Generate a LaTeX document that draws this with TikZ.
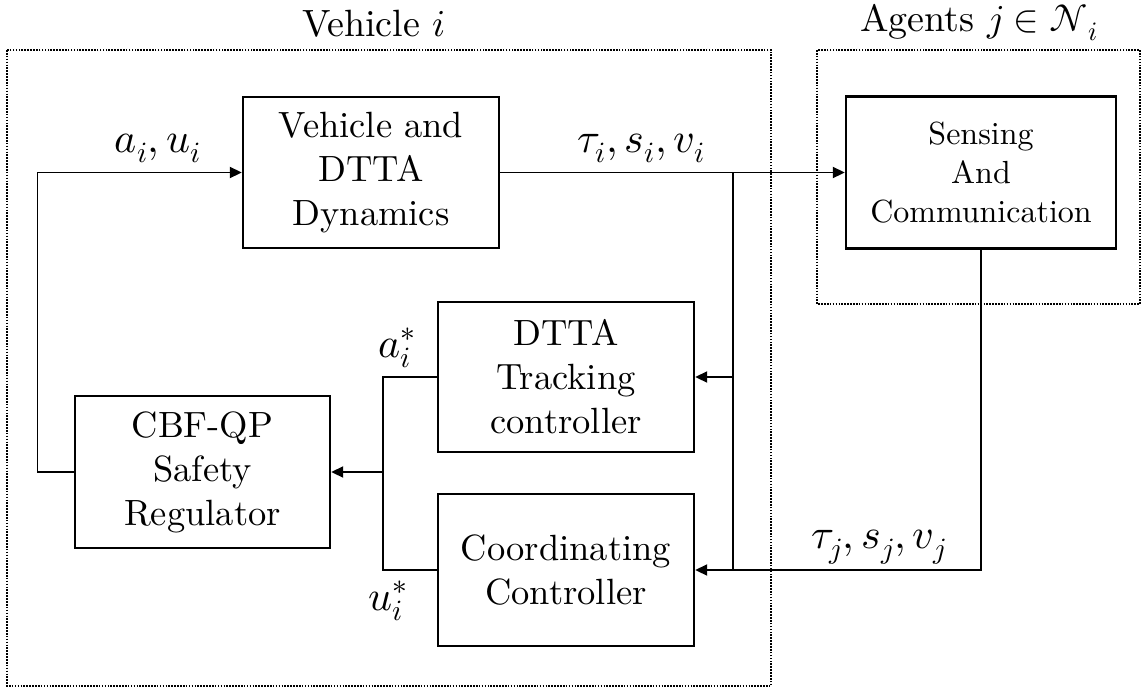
\documentclass[tikz,border=0pt]{standalone}
\usepackage{unicode-math}
\setmainfont{lmroman10-regular.otf}
\usetikzlibrary{arrows.meta,calc}
\tikzset{
  blk/.style={draw, line width=2.4pt, align=center, inner sep=0pt,
    minimum width=256pt, minimum height=151pt,
    font=\fontsize{36.5}{44}\selectfont},
  sensblk/.style={blk, minimum width=270pt, minimum height=152pt,
    font=\fontsize{32}{39}\selectfont},
  lbl/.style={anchor=base, inner sep=0pt, font=\fontsize{42}{48}\selectfont},
  ttl/.style={anchor=base, inner sep=0pt, font=\fontsize{38}{44}\selectfont},
  conn/.style={line width=1.9pt},
  arr/.style={conn, -{Triangle[length=12pt,width=11pt]}},
  dotbox/.style={line width=1.6pt, dash pattern=on 1.6pt off 1.3pt}
}
\begin{document}
\begin{tikzpicture}[x=1pt,y=-1pt]
\useasboundingbox (0,0) rectangle (1143,694);
% dotted groups
\draw[dotbox] (7,50) rectangle (771,686);
\draw[dotbox] (817,50) rectangle (1140,304);
\node[ttl] (tveh) at (374,36) {Vehicle $i$};
\node[ttl] (tag) at (979,31) {Agents $j \in \mathcal{N}_i$};
% blocks
\node[blk] (dyn) at (371,172.5) {Vehicle and\\DTTA\\Dynamics};
\node[sensblk] (sens) at (981,172.5) {Sensing\\And\\Communication};
\node[blk, minimum height=150pt] (dtta) at (566,377) {DTTA\\Tracking\\controller};
\node[blk, minimum width=255pt, minimum height=152pt] (cbf) at (202.5,472) {CBF-QP\\Safety\\Regulator};
\node[blk, minimum height=152pt] (coord) at (566,570) {Coordinating\\Controller};
% junctions
\coordinate (L) at (37.5,172.5);
\coordinate (J1) at (733,172.5);
\coordinate (J2) at (383,472);
% connectors
\draw[arr] (dyn.east) -- (sens.west);
\draw[arr] (J1) |- (dtta.east);
\draw[conn] (J1) -- (J1 |- coord.east);
\draw[arr] (sens.south) |- (coord.east);
\draw[conn] (dtta.west) -| (J2);
\draw[conn] (coord.west) -| (J2);
\draw[arr] (J2) -- (cbf.east);
\draw[arr] (cbf.west) -| (L) -- (dyn.west);
% labels
\node[lbl] (lai) at (158,152) {$a_i, u_i$};
\node[lbl] (ltaui) at (641,152) {$\tau_i, s_i, v_i$};
\node[lbl] (las) at (397,357) {$a_i^*$};
\node[lbl] (lus) at (388,610) {$u_i^*$};
\node[lbl] (ltauj) at (879,548) {$\tau_j, s_j, v_j$};
\end{tikzpicture}
\end{document}
